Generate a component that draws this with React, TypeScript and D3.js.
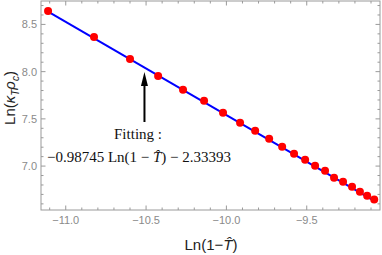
import React from 'react';
import * as d3 from 'd3';

// ln(1 - T^) values
const lnT = [
  -11.110, -10.824, -10.600, -10.425, -10.270, -10.139, -10.021, -9.915, -9.821, -9.734,
  -9.653, -9.579, -9.510, -9.448, -9.386, -9.330, -9.274, -9.218, -9.169, -9.124, -9.080,
];
// ln(kappa_T rho_c)
const lnK = [
  8.641, 8.366, 8.134, 7.955, 7.807, 7.691, 7.564, 7.459, 7.374, 7.289,
  7.205, 7.131, 7.068, 7.004, 6.951, 6.877, 6.835, 6.782, 6.729, 6.687, 6.645,
];
const xTicks = [-11.0, -10.5, -10.0, -9.5];
const yTicks = [7.0, 7.5, 8.0, 8.5];
const slope = -0.98745;
const intercept = -2.33393;

const W = 382;
const H = 255;
const frame = { left: 41, top: 1, right: 380, bottom: 210 };

const App = () => {
  const x = d3.scaleLinear().domain([-11.154, -9.044]).range([frame.left, frame.right]);
  const y = d3.scaleLinear().domain([6.535, 8.748]).range([frame.bottom, frame.top]);

  const minorX = d3.range(-11.1, -9.0, 0.1).map(v => +v.toFixed(1));
  const minorY = d3.range(6.6, 8.75, 0.1).map(v => +v.toFixed(1));
  const isMajor = (v: number, ticks: number[]) => ticks.some(t => Math.abs(t - v) < 1e-6);

  const fitX = d3.extent(lnT) as [number, number];
  const line = d3.line<number>()
    .x(d => x(d))
    .y(d => y(slope * d + intercept));

  const axisColor = '#9a9a9a';
  const labelColor = '#8a8a8a';
  const fmt = (v: number) => (v < 0 ? '\u2212' : '') + Math.abs(v).toFixed(1);

  return (
    <svg width={W} height={H} style={{ position: 'absolute', left: 0, top: 0 }}>
      <rect x={frame.left} y={frame.top} width={frame.right - frame.left} height={frame.bottom - frame.top}
        fill="none" stroke={axisColor} strokeWidth={1} />
      {minorX.map(v => {
        const len = isMajor(v, xTicks) ? 4.5 : 2.5;
        return (
          <g key={'x' + v} stroke={axisColor}>
            <line x1={x(v)} x2={x(v)} y1={frame.bottom} y2={frame.bottom - len} />
            <line x1={x(v)} x2={x(v)} y1={frame.top} y2={frame.top + len} />
          </g>
        );
      })}
      {minorY.map(v => {
        const len = isMajor(v, yTicks) ? 4.5 : 2.5;
        return (
          <g key={'y' + v} stroke={axisColor}>
            <line x1={frame.left} x2={frame.left + len} y1={y(v)} y2={y(v)} />
            <line x1={frame.right} x2={frame.right - len} y1={y(v)} y2={y(v)} />
          </g>
        );
      })}
      <g fontFamily="Liberation Sans, Arial, sans-serif" fontSize={11} fill={labelColor}>
        {xTicks.map(v => (
          <text key={v} x={x(v)} y={frame.bottom + 14} textAnchor="middle">{fmt(v)}</text>
        ))}
        {yTicks.map(v => (
          <text key={v} x={frame.left - 4} y={y(v) + 4} textAnchor="end">{fmt(v)}</text>
        ))}
      </g>

      <path d={line(fitX) || ''} fill="none" stroke="#0000ff" strokeWidth={2} />
      {lnT.map((v, i) => (
        <circle key={i} cx={x(v)} cy={y(lnK[i])} r={4} fill="#ff0000" />
      ))}

      {/* annotation arrow */}
      <line x1={x(-10.51)} x2={x(-10.51)} y1={122} y2={84} stroke="#000" strokeWidth={2} />
      <path d={`M${x(-10.51)},72 L${x(-10.51) - 3.5},86 L${x(-10.51) + 3.5},86 Z`} fill="#000" />

      <g fontFamily="Liberation Serif, Times New Roman, serif" fontSize={15} fill="#111">
        <text x={138} y={139} textAnchor="middle">Fitting :</text>
        <text x={139} y={162} textAnchor="middle">
          {'\u22120.98745 Ln(1 \u2212 '}
          <tspan fontStyle="italic">{'T\u0302'}</tspan>
          {') \u2212 2.33393'}
        </text>
      </g>

      <g fontFamily="Liberation Sans, Arial, sans-serif" fontSize={15} fill="#222">
        <text x={211} y={250} textAnchor="middle">
          {'Ln(1\u2212'}
          <tspan fontStyle="italic">{'T\u0302'}</tspan>
          {')'}
        </text>
        <text transform={`translate(15,98) rotate(-90)`} textAnchor="middle">
          {'Ln('}
          <tspan fontStyle="italic">{'\u03BA'}</tspan>
          <tspan fontStyle="italic" fontSize={10} dy={4}>T</tspan>
          <tspan fontStyle="italic" dy={-4}>{'\u03C1'}</tspan>
          <tspan fontStyle="italic" fontSize={10} dy={4}>c</tspan>
          <tspan dy={-4}>)</tspan>
        </text>
      </g>
    </svg>
  );
};

export default App;
